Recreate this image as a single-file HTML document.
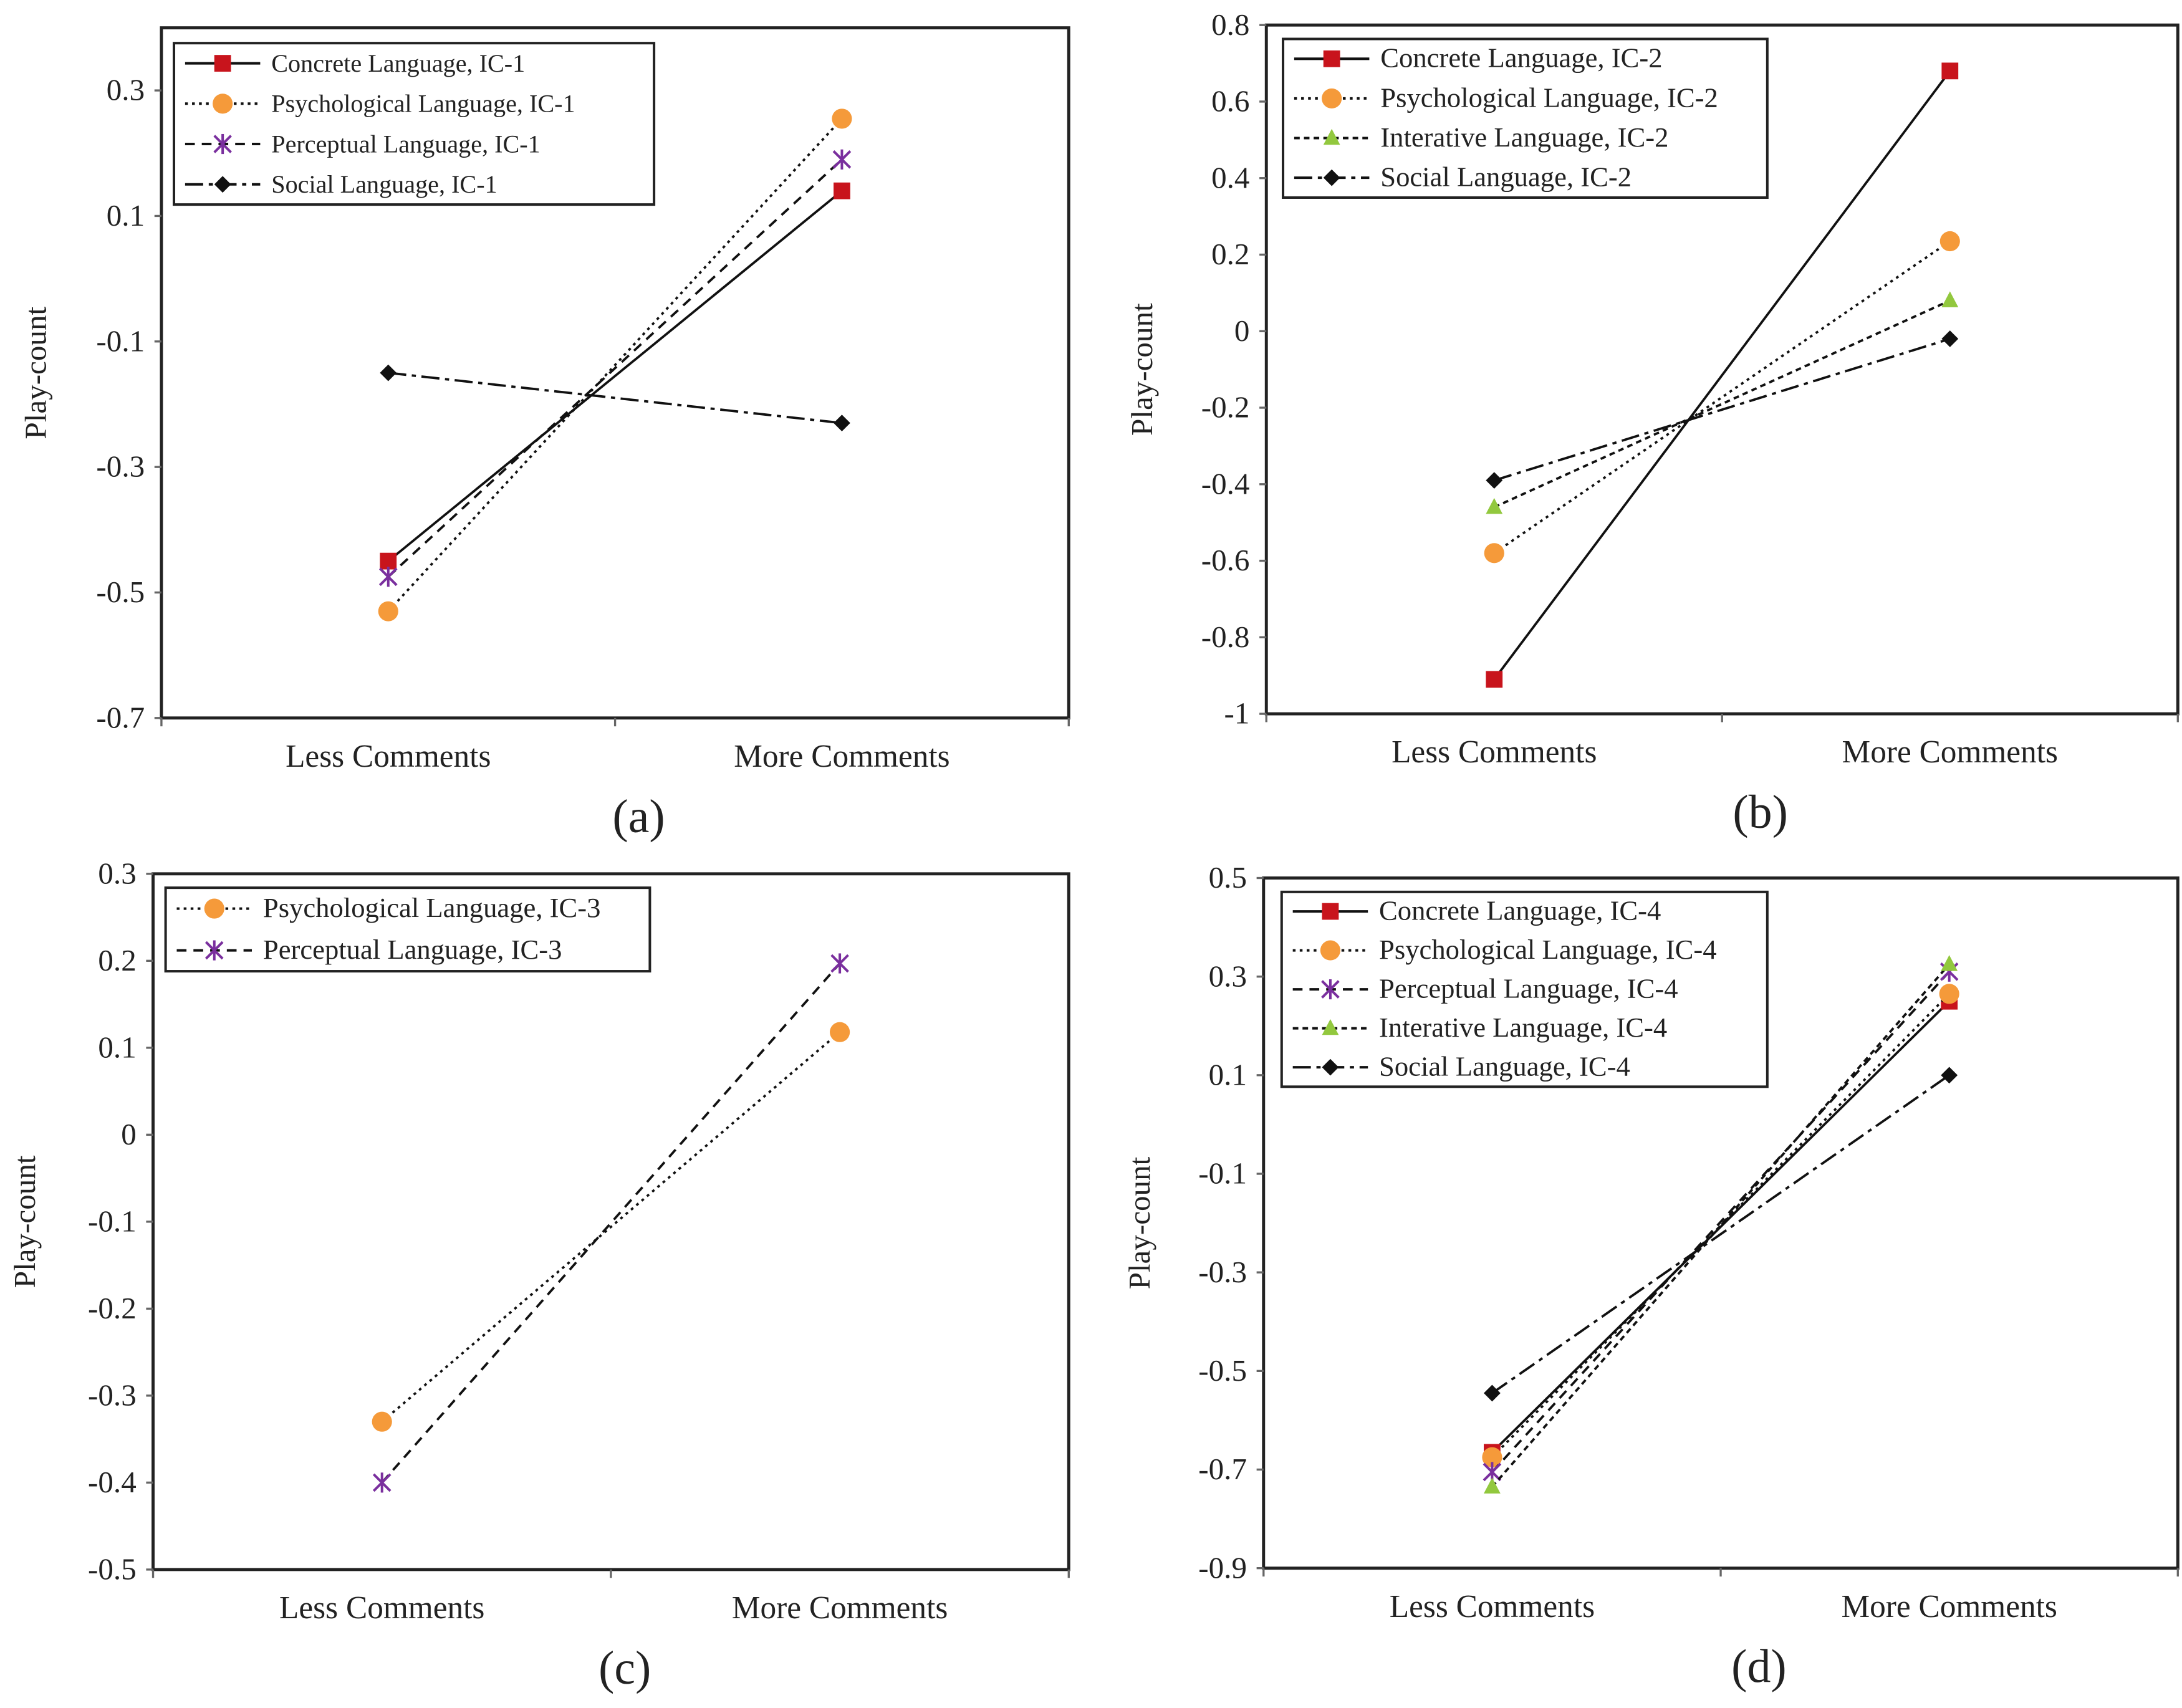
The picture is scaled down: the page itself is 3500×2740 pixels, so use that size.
<!DOCTYPE html>
<html><head><meta charset="utf-8"><style>
html,body{margin:0;padding:0;background:#fff;}
svg{display:block;font-family:"Liberation Serif","DejaVu Serif",serif;}
svg text{font-family:"Liberation Serif","DejaVu Serif",serif;fill:#222;}
</style></head><body>
<svg id="fig" width="3500" height="2740" viewBox="0 0 1568 1227.5" preserveAspectRatio="none" xmlns="http://www.w3.org/2000/svg"></svg>
<script>
const categories = ["Less Comments", "More Comments"];
// panel a
const aNames = ["Concrete Language, IC-1","Psychological Language, IC-1","Perceptual Language, IC-1","Social Language, IC-1"];
const aConcrete = [-0.45, 0.14];
const aPsych = [-0.53, 0.255];
const aPercep = [-0.475, 0.19];
const aSocial = [-0.15, -0.23];
const aTicks = [-0.7,-0.5,-0.3,-0.1,0.1,0.3];
// panel b
const bNames = ["Concrete Language, IC-2","Psychological Language, IC-2","Interative Language, IC-2","Social Language, IC-2"];
const bConcrete = [-0.91, 0.68];
const bPsych = [-0.58, 0.235];
const bInter = [-0.46, 0.08];
const bSocial = [-0.39, -0.02];
const bTicks = [-1,-0.8,-0.6,-0.4,-0.2,0,0.2,0.4,0.6,0.8];
// panel c
const cNames = ["Psychological Language, IC-3","Perceptual Language, IC-3"];
const cPsych = [-0.33, 0.118];
const cPercep = [-0.40, 0.197];
const cTicks = [-0.5,-0.4,-0.3,-0.2,-0.1,0,0.1,0.2,0.3];
// panel d
const dNames = ["Concrete Language, IC-4","Psychological Language, IC-4","Perceptual Language, IC-4","Interative Language, IC-4","Social Language, IC-4"];
const dConcrete = [-0.665, 0.25];
const dPsych = [-0.675, 0.265];
const dPercep = [-0.705, 0.31];
const dInter = [-0.735, 0.325];
const dSocial = [-0.545, 0.10];
const dTicks = [-0.9,-0.7,-0.5,-0.3,-0.1,0.1,0.3,0.5];

const NS = "http://www.w3.org/2000/svg";
const FONT = "'Liberation Serif', 'DejaVu Serif', serif";
const svg = document.getElementById('fig');
function mk(tag, attrs, parent){const e=document.createElementNS(NS,tag);for(const k in attrs)e.setAttribute(k,attrs[k]);if(tag==='text')e.setAttribute('font-family',FONT);(parent||svg).appendChild(e);return e;}

const STY = {
  concrete:{dash:"", marker:"square"},
  psych:{dash:"2,3", marker:"circle"},
  percep:{dash:"7,5", marker:"star"},
  inter:{dash:"4,3", marker:"tri"},
  social:{dash:"13,4,3,4", marker:"diamond"}
};
function marker(g, type, x, y, s){
  let m;
  if(type==="square") m=mk('rect',{x:x-s,y:y-s,width:2*s,height:2*s,fill:"#c8141c"},g);
  else if(type==="circle") m=mk('circle',{cx:x,cy:y,r:s*1.2,fill:"#f59a3a"},g);
  else if(type==="tri") m=mk('polygon',{points:`${x},${y-s*1.1} ${x-s},${y+s*0.8} ${x+s},${y+s*0.8}`,fill:"#92c83e"},g);
  else if(type==="diamond") m=mk('polygon',{points:`${x},${y-s} ${x+s},${y} ${x},${y+s} ${x-s},${y}`,fill:"#111"},g);
  else {
    m=mk('g',{stroke:"#7a2f9e","stroke-width":1.8},g);
    mk('line',{x1:x-s,y1:y-s,x2:x+s,y2:y+s},m);
    mk('line',{x1:x-s,y1:y+s,x2:x+s,y2:y-s},m);
    mk('line',{x1:x,y1:y-s*1.2,x2:x,y2:y+s*1.2},m);
  }
  return m;
}

function panel(p){
  const g=mk('g',{});
  
  
  const L=p.box[0],T=p.box[1],R=p.box[2],B=p.box[3];
  const yS=v=>p.y0px+(v-p.v0)*(p.y1px-p.y0px)/(p.v1-p.v0);
  const xS=i=>L+(R-L)*(i*2+1)/4;
  const frame=mk('rect',{x:L,y:T,width:R-L,height:B-T,fill:"none",stroke:"#222","stroke-width":2.2},g);
  
  
  p.ticks.forEach(v=>{
    const y=yS(v);
    mk('line',{x1:L-5,y1:y,x2:L,y2:y,stroke:"#666","stroke-width":1.5},g);
    const t=mk('text',{x:L-12,y:y+7,"font-size":22,"text-anchor":"end"},g);
    t.textContent=String(v);
    
    
  });
  [L,(L+R)/2,R].forEach(x=>mk('line',{x1:x,y1:B,x2:x,y2:B+6,stroke:"#666","stroke-width":1.5},g));
  categories.forEach((c,i)=>{
    const t=mk('text',{x:xS(i),y:B+35,"font-size":23,"text-anchor":"middle"},g);
    t.textContent=c;
    
    
  });
  const yt=mk('text',{x:0,y:0,"font-size":22,"text-anchor":"middle",transform:`translate(${p.ytx},${(T+B)/2}) rotate(-90)`},g);
  yt.textContent="Play-count";
  
  
  const cap=mk('text',{x:p.capx,y:B+82,"font-size":34,"text-anchor":"middle"},g);
  cap.textContent="("+p.id+")";
  
  
  p.series.forEach(s=>{
    const st=STY[s.kind];
    const sg=mk('g',{},g);
    
    
    mk('line',{x1:xS(0),y1:yS(s.vals[0]),x2:xS(1),y2:yS(s.vals[1]),stroke:"#111","stroke-width":1.7,"stroke-dasharray":st.dash},sg);
    s.vals.forEach((v,i)=>{
      const m=marker(sg,st.marker,xS(i),yS(v),6);
      
      
    });
  });
  const lg=mk('g',{},g);
  
  
  const lb=p.leg;
  mk('rect',{x:lb[0],y:lb[1],width:lb[2]-lb[0],height:lb[3]-lb[1],fill:"#fff",stroke:"#222","stroke-width":1.8},lg);
  const n=p.series.length, step=(lb[3]-lb[1])/n;
  p.series.forEach((s,i)=>{
    const st=STY[s.kind];
    const y=lb[1]+step*(i+0.5);
    const e=mk('g',{},lg);
    
    
    mk('line',{x1:lb[0]+8,y1:y,x2:lb[0]+62,y2:y,stroke:"#111","stroke-width":1.8,"stroke-dasharray":st.dash},e);
    marker(e,st.marker,lb[0]+35,y,6);
    const t=mk('text',{x:lb[0]+70,y:y+6,"font-size":p.lfs},e);
    t.textContent=p.names[i];
  });
}

panel({id:"a",box:[116,20,768,516],v0:-0.7,v1:0.3,y0px:516,y1px:65,ticks:aTicks,ytx:33,capx:459,lfs:18,
  leg:[125,31,470,147],names:aNames,
  series:[{kind:"concrete",vals:aConcrete},{kind:"psych",vals:aPsych},{kind:"percep",vals:aPercep},{kind:"social",vals:aSocial}]});
panel({id:"b",box:[910,18,1565,513],v0:-1,v1:0.8,y0px:513,y1px:18,ticks:bTicks,ytx:828,capx:1265,lfs:20,
  leg:[922,28,1270,142],names:bNames,
  series:[{kind:"concrete",vals:bConcrete},{kind:"psych",vals:bPsych},{kind:"inter",vals:bInter},{kind:"social",vals:bSocial}]});
panel({id:"c",box:[110,628,768,1128],v0:-0.5,v1:0.3,y0px:1128,y1px:628,ticks:cTicks,ytx:25,capx:449,lfs:20,
  leg:[119,638,467,698],names:cNames,
  series:[{kind:"psych",vals:cPsych},{kind:"percep",vals:cPercep}]});
panel({id:"d",box:[908,631,1565,1127],v0:-0.9,v1:0.5,y0px:1127,y1px:631,ticks:dTicks,ytx:826,capx:1264,lfs:20,
  leg:[921,641,1270,781],names:dNames,
  series:[{kind:"concrete",vals:dConcrete},{kind:"psych",vals:dPsych},{kind:"percep",vals:dPercep},{kind:"inter",vals:dInter},{kind:"social",vals:dSocial}]});
</script>
</body></html>
